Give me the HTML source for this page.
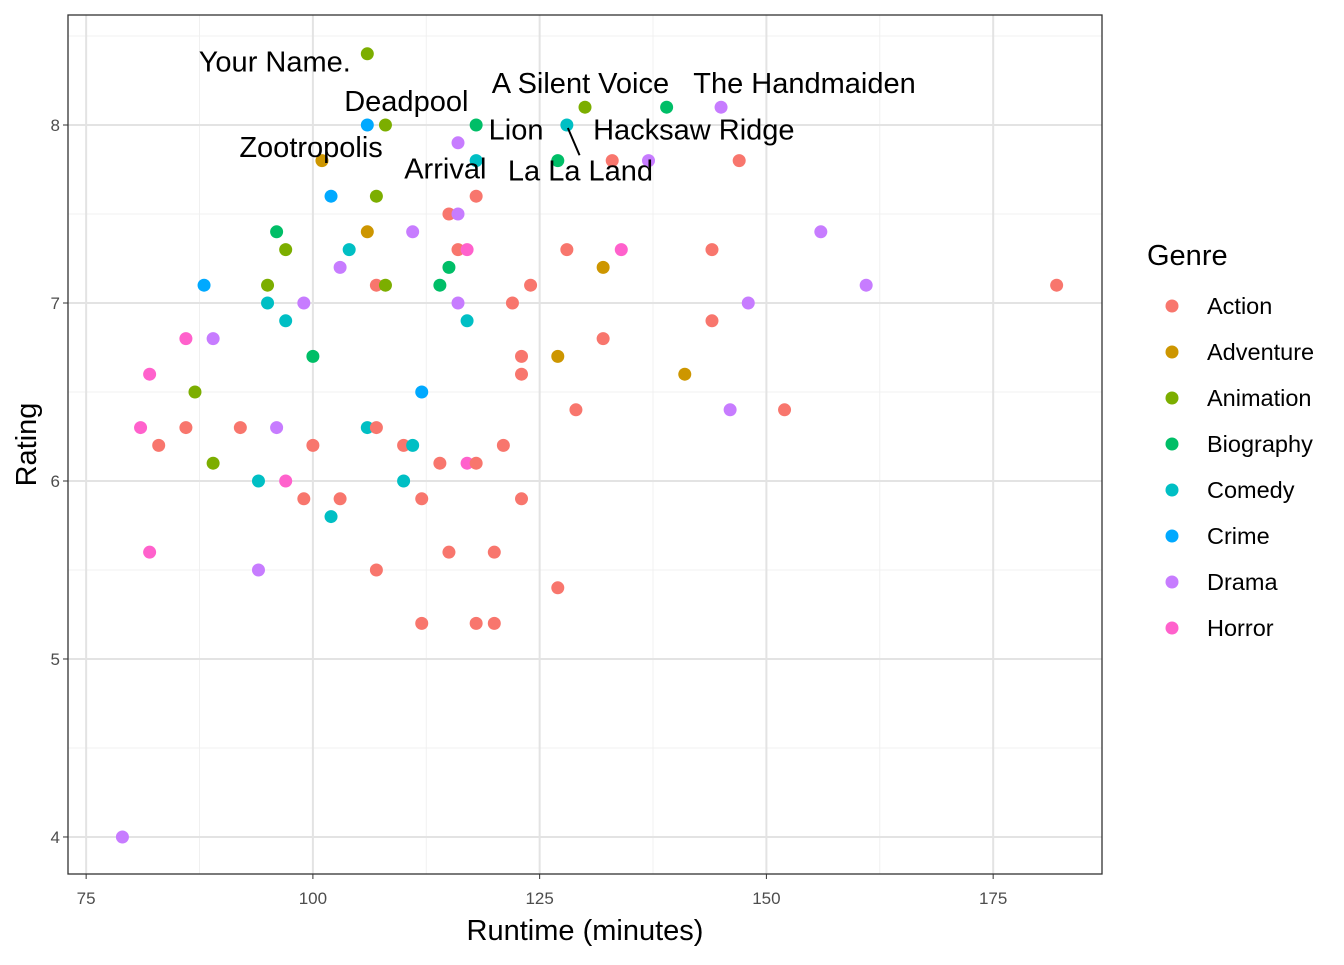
<!DOCTYPE html>
<html><head><meta charset="utf-8"><style>
body{margin:0;background:#fff;font-family:"Liberation Sans",Arial,sans-serif}
</style></head><body>
<svg id="chart" width="1344" height="960" xmlns="http://www.w3.org/2000/svg"></svg>
<script>
const genres=["Action","Adventure","Animation","Biography","Comedy","Crime","Drama","Horror"];
const colors=["#F8766D","#CD9600","#7CAE00","#00BE67","#00BFC4","#00A9FF","#C77CFF","#FF61CC"];
const runtimes=[106,106,108,118,130,139,145,128,101,116,118,127,133,137,147,102,107,118,115,116,96,106,111,156,97,104,116,117,128,134,144,103,115,132,88,95,107,108,114,124,161,182,95,99,116,122,148,97,117,144,86,89,132,100,123,127,82,123,141,87,112,129,146,152,81,86,92,96,106,107,83,100,110,111,121,89,114,117,118,94,97,110,99,103,112,123,102,82,115,120,94,107,127,112,118,120,79];
const ratings=[8.4,8.0,8.0,8.0,8.1,8.1,8.1,8.0,7.8,7.9,7.8,7.8,7.8,7.8,7.8,7.6,7.6,7.6,7.5,7.5,7.4,7.4,7.4,7.4,7.3,7.3,7.3,7.3,7.3,7.3,7.3,7.2,7.2,7.2,7.1,7.1,7.1,7.1,7.1,7.1,7.1,7.1,7.0,7.0,7.0,7.0,7.0,6.9,6.9,6.9,6.8,6.8,6.8,6.7,6.7,6.7,6.6,6.6,6.6,6.5,6.5,6.4,6.4,6.4,6.3,6.3,6.3,6.3,6.3,6.3,6.2,6.2,6.2,6.2,6.2,6.1,6.1,6.1,6.1,6.0,6.0,6.0,5.9,5.9,5.9,5.9,5.8,5.6,5.6,5.6,5.5,5.5,5.4,5.2,5.2,5.2,4.0];
const genreIdx=[2,5,2,3,2,3,6,4,1,6,4,3,0,6,0,5,2,0,0,6,3,1,6,6,2,4,0,7,0,7,0,6,3,1,5,2,0,2,3,0,6,0,4,6,6,0,6,4,4,0,7,6,0,3,0,1,7,0,1,2,5,0,6,0,7,0,0,6,4,0,0,0,0,4,0,2,0,7,0,4,7,4,0,0,0,0,4,7,0,0,6,0,0,0,0,0,6];
const labelTexts=["Your Name.","Deadpool","A Silent Voice","The Handmaiden","Lion","Hacksaw Ridge","Zootropolis","Arrival","La La Land"];
const labelX=[95.8,110.3,129.5,154.2,122.4,142.0,99.8,114.6,129.5];
const labelY=[8.35,8.13,8.23,8.23,7.97,7.97,7.87,7.75,7.74];
const xTicks=[75,100,125,150,175];
const yTicks=[4,5,6,7,8];
const xMinor=[87.5,112.5,137.5,162.5];
const yMinor=[4.5,5.5,6.5,7.5,8.5];

const L=68,R=1102,T=15,B=874,xmin=73.0,xmax=187.0,ymin=3.792,ymax=8.618;
const sx=v=>L+(v-xmin)/(xmax-xmin)*(R-L);
const sy=v=>B-(v-ymin)/(ymax-ymin)*(B-T);
const svg=document.getElementById('chart');
const NS="http://www.w3.org/2000/svg";
function mk(tag,attrs,parent){const e=document.createElementNS(NS,tag);for(const k in attrs)e.setAttribute(k,attrs[k]);(parent||svg).appendChild(e);return e;}

const panel=mk('rect',{x:L,y:T,width:R-L,height:B-T,fill:'#fff'});


xMinor.forEach(v=>{const l=mk('line',{x1:sx(v),x2:sx(v),y1:T,y2:B,stroke:'#f0f0f0','stroke-width':1});

});
yMinor.forEach(v=>{const l=mk('line',{x1:L,x2:R,y1:sy(v),y2:sy(v),stroke:'#f0f0f0','stroke-width':1});

});
xTicks.forEach(v=>{const l=mk('line',{x1:sx(v),x2:sx(v),y1:T,y2:B,stroke:'#e3e3e3','stroke-width':2});


const t=mk('line',{x1:sx(v),x2:sx(v),y1:B,y2:B+5,stroke:'#333','stroke-width':1});


const tx=mk('text',{x:sx(v),y:B+30,'text-anchor':'middle','font-size':17,fill:'#4d4d4d'});tx.textContent=v;

});
yTicks.forEach(v=>{const l=mk('line',{x1:L,x2:R,y1:sy(v),y2:sy(v),stroke:'#e3e3e3','stroke-width':2});


const t=mk('line',{x1:L-5,x2:L,y1:sy(v),y2:sy(v),stroke:'#333','stroke-width':1});


const tx=mk('text',{x:L-8,y:sy(v)+6,'text-anchor':'end','font-size':17,fill:'#4d4d4d'});tx.textContent=v;

});

runtimes.forEach((r,i)=>{const c=mk('circle',{cx:sx(r),cy:sy(ratings[i]),r:6.5,fill:colors[genreIdx[i]]});

});

const seg=mk('line',{x1:sx(128)+1,y1:sy(8.0)+3,x2:sx(129.4),y2:sy(7.83),stroke:'#000','stroke-width':2});


labelTexts.forEach((s,i)=>{const t=mk('text',{x:sx(labelX[i]),y:sy(labelY[i])+9,'text-anchor':'middle','font-size':29,fill:'#000'});t.textContent=s;

});

const border=mk('rect',{x:L,y:T,width:R-L,height:B-T,fill:'none',stroke:'#333','stroke-width':1.3});



const xt=mk('text',{x:(L+R)/2,y:940,'text-anchor':'middle','font-size':29,fill:'#000'});xt.textContent='Runtime (minutes)';


const yt=mk('text',{x:0,y:0,'text-anchor':'middle','font-size':29,fill:'#000',transform:`translate(36,${(T+B)/2}) rotate(-90)`});yt.textContent='Rating';



const lg=mk('text',{x:1147,y:265,'font-size':29,fill:'#000'});lg.textContent='Genre';


genres.forEach((g,i)=>{const y=306+46*i;
const c=mk('circle',{cx:1172,cy:y,r:6.5,fill:colors[i]});


const t=mk('text',{x:1207,y:y+8,'font-size':23.5,fill:'#000'});t.textContent=g;

});
</script>
</body></html>
